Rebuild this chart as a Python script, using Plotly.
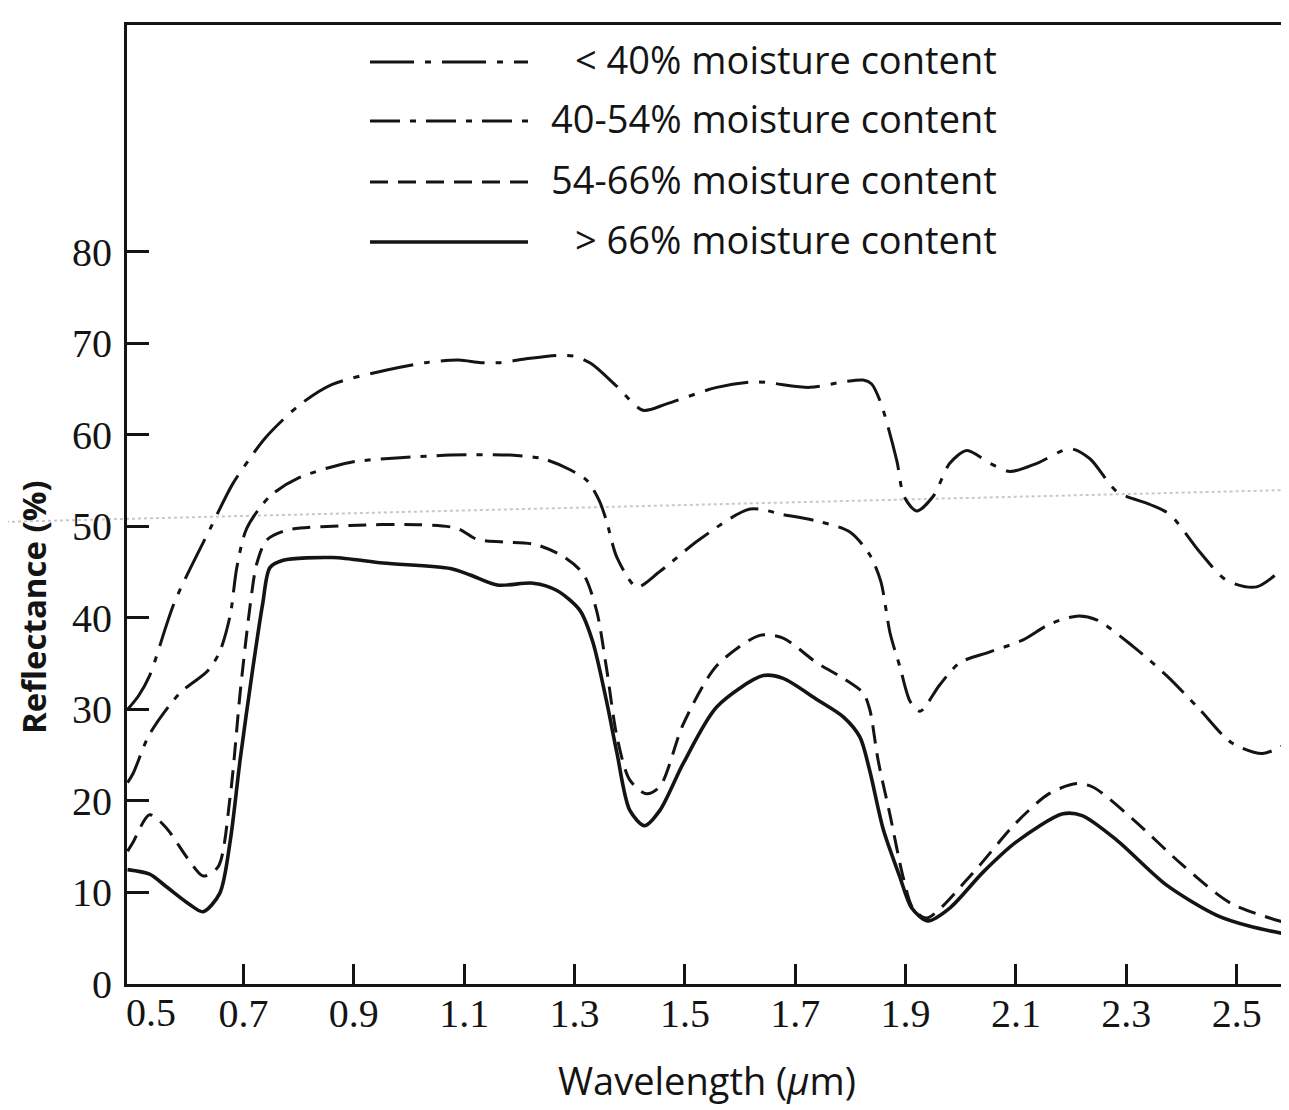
import plotly.graph_objects as go

# ---------------- data ----------------
legend_labels = ["< 40% moisture content", "40-54% moisture content",
                 "54-66% moisture content", "> 66% moisture content"]

wl_lt40 = [0.49, 0.51, 0.53, 0.575, 0.64, 0.68, 0.71, 0.74, 0.80, 0.86, 0.96, 1.03, 1.09,
           1.13, 1.165, 1.21, 1.27, 1.30, 1.33, 1.377, 1.424, 1.467, 1.558, 1.63, 1.726,
           1.787, 1.823, 1.838, 1.855, 1.884, 1.897, 1.92, 1.95, 1.98, 2.011, 2.053, 2.089,
           2.138, 2.198, 2.234, 2.283, 2.343, 2.379, 2.433, 2.482, 2.536, 2.594]
rf_lt40 = [30.0, 31.5, 33.7, 41.7, 49.8, 54.6, 57.3, 59.7, 63.2, 65.5, 67.1, 67.9, 68.2,
           67.9, 67.9, 68.3, 68.7, 68.6, 67.8, 65.3, 62.7, 63.4, 65.2, 65.8, 65.2,
           65.8, 66.0, 65.6, 63.5, 57.2, 53.3, 51.7, 53.3, 56.9, 58.3, 56.9, 56.0,
           56.9, 58.5, 57.4, 53.8, 52.4, 51.3, 47.2, 44.1, 43.4, 46.0]

wl_40_54 = [0.49, 0.50, 0.53, 0.585, 0.635, 0.657, 0.676, 0.688, 0.706, 0.748, 0.80, 0.893,
            0.984, 1.075, 1.183, 1.243, 1.292, 1.323, 1.345, 1.358, 1.377, 1.413, 1.455,
            1.527, 1.618, 1.678, 1.739, 1.799, 1.835, 1.855, 1.872, 1.89, 1.908, 1.926,
            1.962, 1.998, 2.053, 2.113, 2.16, 2.21, 2.246, 2.312, 2.373, 2.433, 2.49,
            2.547, 2.594]
rf_40_54 = [22.0, 23.0, 27.3, 31.8, 34.2, 36.3, 40.3, 45.5, 49.8, 53.3, 55.3, 57.0,
            57.5, 57.8, 57.8, 57.4, 56.2, 55.0, 52.8, 50.6, 46.6, 43.4, 45.1,
            48.6, 51.9, 51.3, 50.6, 49.4, 46.9, 44.0, 38.3, 34.6, 30.9, 29.8,
            32.7, 35.1, 36.3, 37.6, 39.3, 40.2, 39.8, 36.9, 33.7, 30.0, 26.4,
            25.2, 26.4]

wl_54_66 = [0.49, 0.50, 0.53, 0.561, 0.598, 0.627, 0.654, 0.676, 0.694, 0.712, 0.724, 0.742,
            0.779, 0.893, 1.014, 1.087, 1.123, 1.171, 1.231, 1.28, 1.316, 1.34, 1.358,
            1.377, 1.40, 1.43, 1.455, 1.497, 1.558, 1.636, 1.678, 1.739, 1.787, 1.823,
            1.835, 1.85, 1.872, 1.895, 1.913, 1.938, 2.017, 2.10, 2.16, 2.21, 2.24,
            2.312, 2.40, 2.49, 2.594]
rf_54_66 = [14.5, 15.5, 18.5, 17.0, 13.8, 11.8, 12.8, 20.5, 31.8, 41.3, 45.9, 48.5,
            49.6, 50.1, 50.2, 49.8, 48.6, 48.3, 48.0, 46.7, 44.8, 40.8, 34.5,
            27.0, 22.3, 20.8, 21.6, 28.4, 34.8, 38.1, 37.8, 35.1, 33.4, 31.8,
            30.0, 24.5, 18.4, 11.8, 8.3, 7.2, 11.8, 17.6, 20.8, 21.9, 21.5,
            18.0, 13.1, 8.8, 6.6]

wl_gt66 = [0.49, 0.53, 0.561, 0.60, 0.627, 0.657, 0.676, 0.694, 0.717, 0.735, 0.748, 0.772,
           0.862, 0.953, 1.075, 1.111, 1.16, 1.225, 1.268, 1.31, 1.333, 1.358, 1.377,
           1.40, 1.427, 1.455, 1.497, 1.558, 1.642, 1.678, 1.739, 1.787, 1.817, 1.835,
           1.859, 1.889, 1.911, 1.94, 1.98, 2.04, 2.10, 2.185, 2.22, 2.283, 2.373,
           2.464, 2.524, 2.594]
rf_gt66 = [12.5, 12.0, 10.6, 8.8, 7.9, 9.9, 15.6, 24.5, 34.5, 41.6, 45.5, 46.3,
           46.6, 46.0, 45.4, 44.7, 43.6, 43.8, 43.0, 40.8, 37.4, 30.9, 25.2,
           19.0, 17.3, 19.0, 24.1, 30.3, 33.7, 33.4, 31.1, 29.2, 27.0, 23.3,
           17.0, 11.8, 8.3, 6.9, 8.3, 12.2, 15.5, 18.6, 18.4, 15.7, 10.8,
           7.5, 6.3, 5.4]

x_tick_vals = [0.7, 0.9, 1.1, 1.3, 1.5, 1.7, 1.9, 2.1, 2.3, 2.5]
x_tick_text = ["0.7", "0.9", "1.1", "1.3", "1.5", "1.7", "1.9", "2.1", "2.3", "2.5"]
y_tick_vals = [0, 10, 20, 30, 40, 50, 60, 70, 80]

# ---------------- styling ----------------
INK = "#141414"
styles = [
    dict(dash="44px,11px,6px,11px", width=3.0),
    dict(dash="30px,10px,6px,10px", width=3.0),
    dict(dash="18px,10px", width=3.0),
    dict(dash="solid", width=3.6),
]
series = [(wl_lt40, rf_lt40), (wl_40_54, rf_40_54), (wl_54_66, rf_54_66), (wl_gt66, rf_gt66)]

fig = go.Figure()
for (xs, ys), st, name in zip(series, styles, legend_labels):
    fig.add_trace(go.Scatter(
        x=xs, y=ys, mode="lines", name=name, showlegend=False, hoverinfo="skip",
        line=dict(color=INK, width=st["width"], dash=st["dash"], shape="spline", smoothing=0.8),
    ))

# page has an 8px body margin, so the figure is laid out in page pixels minus 8
OFF = 8
W, H = 1289 - OFF, 1110 - OFF
PL, PR, PT, PB = 127, 1285, 25, 984          # plot area in page pixels
L, T = PL - OFF, PT - OFF
pw, ph = PR - PL, PB - PT
R, B = W - L - pw, H - T - ph


def px_x(p):
    return (p - PL) / pw


def px_y(p):
    return (PB - p) / ph


shapes = []
annotations = []

# faint scan artifact (dotted grey line bleeding through the page)
shapes.append(dict(type="line", xref="paper", yref="paper",
                   x0=px_x(0), x1=px_x(1289), y0=px_y(522), y1=px_y(490),
                   line=dict(color="#c8c8c8", width=2, dash="dot"), layer="below"))

# manual legend
legend_rows = [62, 121, 182, 242]
for (lab, st, ry) in zip(legend_labels, styles, legend_rows):
    shapes.append(dict(type="line", xref="paper", yref="paper",
                       x0=px_x(370), x1=px_x(528), y0=px_y(ry), y1=px_y(ry),
                       line=dict(color=INK, width=st["width"], dash=st["dash"])))
    annotations.append(dict(xref="paper", yref="paper", x=px_x(999), y=px_y(ry - 3),
                            text=lab, showarrow=False, xanchor="right", yanchor="middle",
                            font=dict(family="Open Sans", size=38, color=INK)))

# '0.5' label sitting just right of the axis corner
annotations.append(dict(xref="x", yref="paper", x=0.533, y=0, yanchor="top", yshift=-4,
                        text="0.5", showarrow=False,
                        font=dict(family="Liberation Serif", size=40, color=INK)))

# axis titles
annotations.append(dict(xref="paper", yref="paper", x=px_x(34), y=px_y(607),
                        text="Reflectance (%)", textangle=-90, showarrow=False,
                        xanchor="center", yanchor="middle",
                        font=dict(family="Open Sans", size=33, color=INK, weight="bold")))
annotations.append(dict(xref="paper", yref="paper", x=px_x(707), y=px_y(1080),
                        text="Wavelength (<i>μ</i>m)", showarrow=False,
                        xanchor="center", yanchor="middle",
                        font=dict(family="Open Sans", size=38, color=INK)))

fig.update_layout(
    width=W, height=H,
    margin=dict(l=L, r=R, t=T, b=B),
    paper_bgcolor="white", plot_bgcolor="white",
    shapes=shapes, annotations=annotations,
    showlegend=False,
    xaxis=dict(range=[0.489, 2.5875], tickvals=x_tick_vals, ticktext=x_tick_text,
               showgrid=False, zeroline=False, showline=True, linecolor=INK, linewidth=3,
               mirror=True, ticks="inside", ticklen=20, tickwidth=2.5, tickcolor=INK,
               ticklabelstandoff=-8,
               tickfont=dict(family="Liberation Serif", size=40, color=INK)),
    yaxis=dict(range=[0, 104.8], tickvals=y_tick_vals,
               showgrid=False, zeroline=False, showline=True, linecolor=INK, linewidth=3,
               mirror=False, ticks="inside", ticklen=22, tickwidth=3, tickcolor=INK,
               ticklabelstandoff=4,
               tickfont=dict(family="Liberation Serif", size=40, color=INK)),
)

fig.write_html("out.html")
